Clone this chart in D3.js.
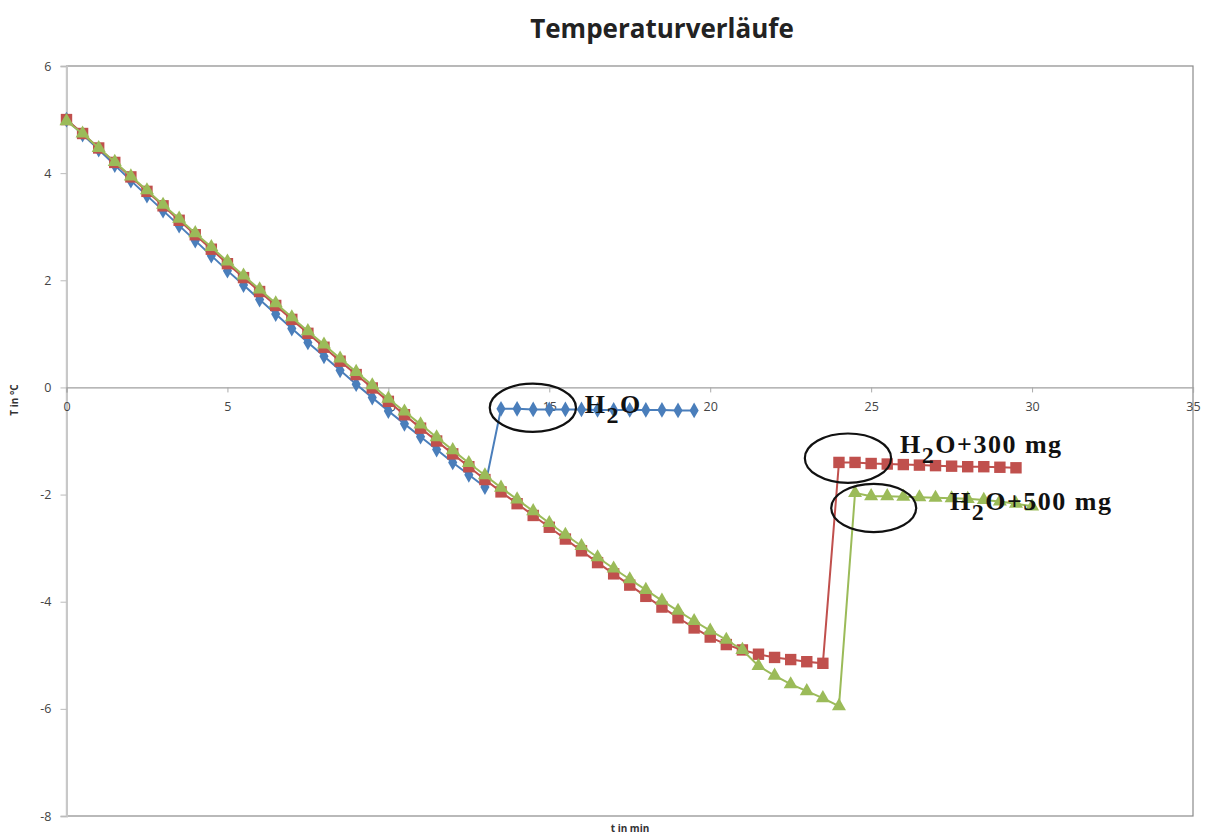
<!DOCTYPE html>
<html>
<head>
<meta charset="utf-8">
<script src="https://cdn.jsdelivr.net/npm/d3@7"></script>
<style>
  body { margin: 0; background: #fff; }
  svg { display: block; }
</style>
</head>
<body>
<div id="chart"></div>
<script>
// data (t in min, T in °C)
const tH2O = [0, 0.5, 1, 1.5, 2, 2.5, 3, 3.5, 4, 4.5, 5, 5.5, 6, 6.5, 7, 7.5, 8, 8.5, 9, 9.5,
    10, 10.5, 11, 11.5, 12, 12.5, 13, 13.5, 14, 14.5, 15, 15.5, 16, 16.5, 17, 17.5, 18, 18.5, 19, 19.5];
const vH2O = [5.00, 4.72, 4.44, 4.15, 3.86, 3.58, 3.30, 3.02, 2.74, 2.46, 2.18, 1.91, 1.64, 1.37, 1.10, 0.84,
    0.58, 0.32, 0.06, -0.19, -0.44, -0.68, -0.92, -1.16, -1.40, -1.63, -1.86,
    -0.40, -0.40, -0.41, -0.41, -0.41, -0.41, -0.42, -0.42, -0.42, -0.42, -0.42, -0.43, -0.43];

const t300 = [0, 0.5, 1, 1.5, 2, 2.5, 3, 3.5, 4, 4.5, 5, 5.5, 6, 6.5, 7, 7.5, 8, 8.5, 9, 9.5,
    10, 10.5, 11, 11.5, 12, 12.5, 13, 13.5, 14, 14.5, 15, 15.5, 16, 16.5, 17, 17.5, 18, 18.5, 19, 19.5,
    20, 20.5, 21, 21.5, 22, 22.5, 23, 23.5, 24, 24.5, 25, 25.5, 26, 26.5, 27, 27.5, 28, 28.5, 29, 29.5];
const v300 = [5.00, 4.74, 4.47, 4.20, 3.93, 3.66, 3.39, 3.12, 2.85, 2.58, 2.31, 2.05, 1.79, 1.53, 1.27, 1.01,
    0.75, 0.49, 0.24, -0.01, -0.26, -0.51, -0.76, -1.00, -1.24, -1.48, -1.72, -1.95, -2.17, -2.39,
    -2.61, -2.83, -3.05, -3.27, -3.48, -3.69, -3.90, -4.10, -4.30, -4.49, -4.66, -4.80, -4.90, -4.98,
    -5.04, -5.08, -5.12, -5.15, -1.40, -1.40, -1.42, -1.43, -1.44, -1.45, -1.46, -1.47, -1.48, -1.48, -1.49, -1.50];

const t500 = [0, 0.5, 1, 1.5, 2, 2.5, 3, 3.5, 4, 4.5, 5, 5.5, 6, 6.5, 7, 7.5, 8, 8.5, 9, 9.5,
    10, 10.5, 11, 11.5, 12, 12.5, 13, 13.5, 14, 14.5, 15, 15.5, 16, 16.5, 17, 17.5, 18, 18.5, 19, 19.5,
    20, 20.5, 21, 21.5, 22, 22.5, 23, 23.5, 24, 24.5, 25, 25.5, 26, 26.5, 27, 27.5, 28, 28.5, 29, 29.5, 30];
const v500 = [4.97, 4.74, 4.47, 4.21, 3.94, 3.68, 3.41, 3.15, 2.88, 2.62, 2.35, 2.09, 1.83, 1.57, 1.31, 1.05,
    0.80, 0.54, 0.29, 0.04, -0.21, -0.45, -0.69, -0.93, -1.17, -1.41, -1.64, -1.87, -2.09, -2.31,
    -2.53, -2.75, -2.96, -3.17, -3.38, -3.58, -3.78, -3.98, -4.17, -4.36, -4.54, -4.71, -4.90, -5.20,
    -5.38, -5.54, -5.67, -5.80, -5.95, -1.97, -2.03, -2.03, -2.04, -2.05, -2.06, -2.07, -2.08, -2.10,
    -2.13, -2.17, -2.22];

const xTicks = [0, 5, 10, 15, 20, 25, 30, 35];
const yTicks = [-8, -6, -4, -2, 0, 2, 4, 6];

// annotations: ellipse centre / radii and label anchor in data units
const ellipses = [
    { t: 14.49, T: -0.38, rt: 1.34, rT: 0.45 },
    { t: 24.28, T: -1.32, rt: 1.34, rT: 0.46 },
    { t: 25.08, T: -2.25, rt: 1.32, rT: 0.45 }
];
const labels = [
    { t: 16.1, T: -0.47, rest: "O" },
    { t: 25.9, T: -1.22, rest: "O+300 mg" },
    { t: 27.45, T: -2.29, rest: "O+500 mg" }
];

const W = 1209, H = 839;
const margin = { top: 66, right: 16, bottom: 23, left: 66.5 };
const width = W - margin.left - margin.right,
    height = H - margin.top - margin.bottom;

const svg = d3.select("#chart").append("svg")
    .attr("width", W).attr("height", H);

const g = svg.append("g")
    .attr("transform", `translate(${margin.left},${margin.top})`);

const x = d3.scaleLinear().domain([0, 35]).range([0, width]);
const y = d3.scaleLinear().domain([-8, 6]).range([height, 0]);

// plot border
g.append("rect")
    .attr("width", width).attr("height", height)
    .attr("fill", "none").attr("stroke", "#8a8a8a").attr("stroke-width", 1.2);

// y axis (left), plain hyphen for negatives like the original
const yAxis = g.append("g")
    .call(d3.axisLeft(y).tickValues(yTicks).tickFormat(d => String(d)).tickSize(6).tickPadding(9));
yAxis.select(".domain").attr("stroke", "#c8c8c8").attr("stroke-width", 2);
yAxis.selectAll(".tick line").attr("stroke", "#bbb");
yAxis.selectAll("text")
    .attr("font-family", "Open Sans, sans-serif").attr("font-size", 12.5).attr("fill", "#444");

// x axis crossing at T = 0
const xAxis = g.append("g")
    .attr("transform", `translate(0,${y(0)})`)
    .call(d3.axisBottom(x).tickValues(xTicks).tickFormat(d => String(d)).tickSize(5).tickPadding(10));
xAxis.select(".domain").attr("stroke", "#a0a0a0").attr("stroke-width", 1.2);
xAxis.selectAll(".tick line").attr("stroke", "#aaa");
xAxis.selectAll("text")
    .attr("font-family", "Open Sans, sans-serif").attr("font-size", 12.5).attr("fill", "#444");

// titles
svg.append("text")
    .attr("x", 662).attr("y", 38)
    .attr("text-anchor", "middle")
    .attr("font-family", "Open Sans, sans-serif").attr("font-weight", "bold")
    .attr("font-size", 26).attr("fill", "#222")
    .text("Temperaturverläufe");

svg.append("text")
    .attr("x", 630).attr("y", 832)
    .attr("text-anchor", "middle")
    .attr("font-family", "Open Sans, sans-serif").attr("font-weight", "bold")
    .attr("font-size", 10).attr("fill", "#333")
    .text("t in min");

svg.append("text")
    .attr("transform", "translate(18,400) rotate(-90)")
    .attr("text-anchor", "middle")
    .attr("font-family", "Open Sans, sans-serif").attr("font-weight", "bold")
    .attr("font-size", 10).attr("fill", "#333")
    .text("T in °C");

// series
function pts(ts, vs) { return ts.map((t, i) => ({ t: t, T: vs[i] })); }

const series = [
    { data: pts(tH2O, vH2O), color: "#4a7ebb", marker: d3.symbolDiamond, size: 72 },
    { data: pts(t300, v300), color: "#c0504d", marker: d3.symbolSquare, size: 130 },
    { data: pts(t500, v500), color: "#9bbb59", marker: d3.symbolTriangle, size: 85 }
];

const line = d3.line().x(d => x(d.t)).y(d => y(d.T));

series.forEach(s => {
    g.append("path")
        .datum(s.data)
        .attr("d", line)
        .attr("fill", "none")
        .attr("stroke", s.color)
        .attr("stroke-width", 2);
    g.selectAll(null)
        .data(s.data)
        .enter()
        .append("path")
        .attr("transform", d => `translate(${x(d.t)},${y(d.T)})`)
        .attr("d", d3.symbol().type(s.marker).size(s.size))
        .attr("fill", s.color);
});

// annotation ellipses
g.selectAll(".ann")
    .data(ellipses)
    .enter()
    .append("ellipse")
    .attr("cx", d => x(d.t)).attr("cy", d => y(d.T))
    .attr("rx", d => x(d.rt) - x(0)).attr("ry", d => y(0) - y(d.rT))
    .attr("fill", "none").attr("stroke", "#111").attr("stroke-width", 2.2);

// annotation labels  H2O...
const lab = g.selectAll(".lab")
    .data(labels)
    .enter()
    .append("text")
    .attr("x", d => x(d.t)).attr("y", d => y(d.T))
    .attr("font-family", "Liberation Serif, Times New Roman, serif")
    .attr("font-weight", "bold").attr("font-size", 26).attr("letter-spacing", 1.5)
    .attr("fill", "#111");
lab.append("tspan").text("H");
lab.append("tspan").attr("dy", 10).attr("font-size", 24).text("2");
lab.append("tspan").attr("dy", -10).text(d => d.rest);
</script>
</body>
</html>
